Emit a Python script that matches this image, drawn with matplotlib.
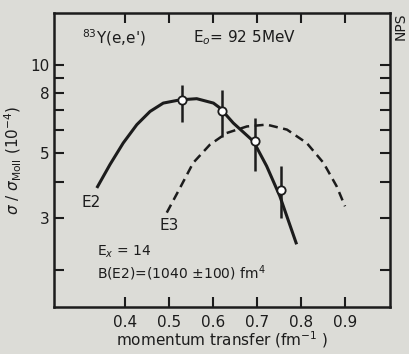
import matplotlib.pyplot as plt
from matplotlib.ticker import FixedLocator, NullFormatter, LogLocator

# values
e2_q = [0.336, 0.366, 0.396, 0.427, 0.457, 0.487, 0.525, 0.563, 0.601, 0.616, 0.646, 0.692, 0.722, 0.752, 0.790]
e2_ff = [3.81, 4.58, 5.42, 6.26, 6.94, 7.41, 7.60, 7.67, 7.41, 7.13, 6.34, 5.49, 4.52, 3.57, 2.45]
e3_q = [0.495, 0.525, 0.555, 0.593, 0.631, 0.677, 0.722, 0.768, 0.813, 0.851, 0.881, 0.900]
e3_ff = [3.14, 3.81, 4.64, 5.35, 5.86, 6.17, 6.26, 6.02, 5.42, 4.64, 3.86, 3.30]
data_q = [0.53, 0.62, 0.695, 0.755]
data_ff = [7.6, 6.94, 5.49, 3.76]
data_lo = [6.4, 5.7, 4.34, 3.01]
data_hi = [8.55, 8.2, 6.59, 4.52]
xticks = [0.4, 0.5, 0.6, 0.7, 0.8, 0.9]
xticklabels = ['0.4', '0.5', '0.6', '0.7', '0.8', '0.9']
yticks = [3, 5, 8, 10]

bg = '#dcdcd7'
ink = '#1c1c1c'

fig = plt.figure(figsize=(4.10, 3.54), dpi=100, facecolor=bg)
ax = fig.add_axes([0.132, 0.133, 0.819, 0.830], facecolor=bg)

ax.plot(e2_q, e2_ff, color=ink, lw=2.2, solid_capstyle='butt', solid_joinstyle='round')
ax.plot(e3_q, e3_ff, color=ink, lw=1.8, dashes=(3.6, 2.2))

err = [[f - l for f, l in zip(data_ff, data_lo)], [h - f for f, h in zip(data_ff, data_hi)]]
ax.errorbar(data_q, data_ff, yerr=err, fmt='o', ms=6, mfc='white', mec=ink,
            mew=1.3, ecolor=ink, elinewidth=1.8, capsize=0, zorder=5)

ax.set_yscale('log')
ax.set_xlim(0.239, 1.002)
ax.set_ylim(1.5, 15.0)

ax.xaxis.set_major_locator(FixedLocator(xticks))
ax.set_xticklabels(xticklabels)
ax.yaxis.set_major_locator(FixedLocator(yticks))
ax.set_yticklabels([str(v) for v in yticks])
ax.yaxis.set_minor_locator(LogLocator(base=10, subs=[2, 4, 6, 7, 9]))
ax.yaxis.set_minor_formatter(NullFormatter())

ax.tick_params(which='both', direction='in', top=True, right=True, color=ink,
               labelcolor=ink, labelsize=11)
ax.tick_params(which='both', length=7, width=1.5)
ax.tick_params(axis='x', pad=6)
for s in ax.spines.values():
    s.set_linewidth(1.8)
    s.set_color(ink)

ax.set_xlabel('momentum transfer (fm$^{-1}$ )', fontsize=11, color=ink, labelpad=-1)
ax.set_ylabel(r'$\sigma$ / $\sigma_{\mathrm{Moll}}$ (10$^{-4}$)', fontsize=11, color=ink, labelpad=4)

txt = dict(transform=ax.transAxes, color=ink, va='center')
ax.text(0.083, 0.915, "$^{83}$Y(e,e')", fontsize=11, **txt)
ax.text(0.414, 0.915, 'E$_o$= 92 5MeV', fontsize=11, **txt)
ax.text(0.083, 0.354, 'E2', fontsize=11, **txt)
ax.text(0.315, 0.276, 'E3', fontsize=11, **txt)
ax.text(0.128, 0.187, 'E$_x$ = 14', fontsize=10, **txt)
ax.text(0.128, 0.115, 'B(E2)=(1040 ±100) fm$^4$', fontsize=10, **txt)
fig.text(0.978, 0.925, 'NPS', rotation=90, fontsize=10, color=ink, ha='center', va='center')

fig.savefig('out.png', dpi=100, facecolor=bg)
